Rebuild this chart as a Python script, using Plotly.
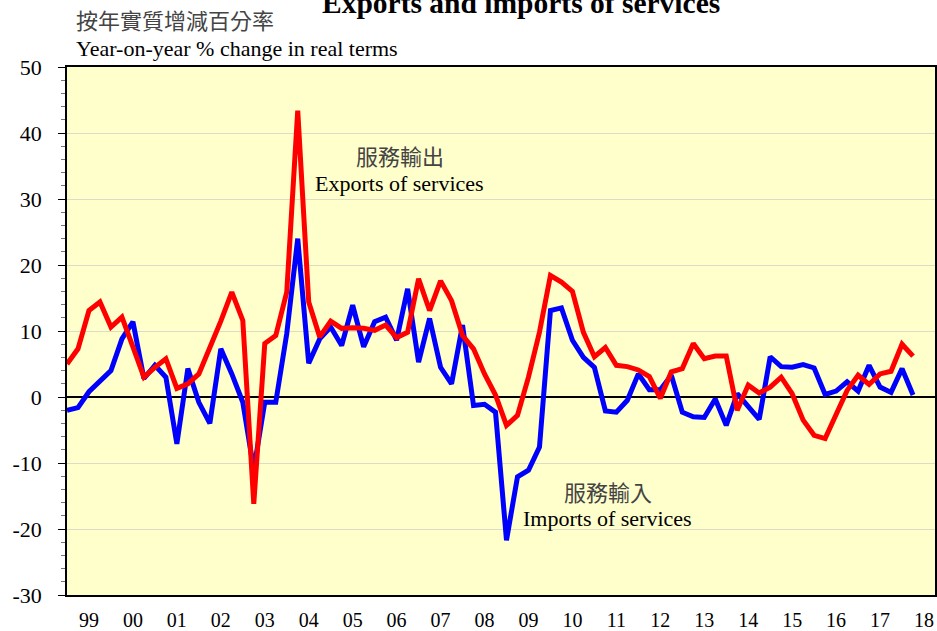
import plotly.graph_objects as go

# Quarterly, 1999 Q1 .. 2018 Q2
exports = [5.0, 7.3, 13.1, 14.4, 10.6, 12.1, 7.6, 3.0, 4.5, 5.8, 1.3, 2.0, 3.5, 7.4, 11.5, 15.9,
           11.6, -16.2, 8.1, 9.3, 15.9, 43.4, 14.4, 9.1, 11.5, 10.4, 10.5, 10.4, 10.1, 10.9, 9.0, 9.8,
           17.9, 13.1, 17.6, 14.6, 9.3, 7.3, 3.5, 0.3, -4.3, -2.8, 3.0, 9.8, 18.4, 17.4, 16.0, 9.8,
           6.1, 7.5, 4.8, 4.6, 4.1, 3.1, -0.2, 3.8, 4.3, 8.1, 5.8, 6.2, 6.2, -2.0, 1.8, 0.6,
           1.5, 3.0, 0.5, -3.5, -5.8, -6.3, -2.8, 1.0, 3.3, 1.9, 3.5, 3.9, 8.0, 6.2]
imports = [-2.0, -1.6, 0.8, 2.3, 4.0, 8.8, 11.4, 2.8, 4.8, 3.0, -7.1, 4.3, -0.8, -4.0, 7.3, 3.5,
           -0.8, -11.0, -0.8, -0.8, 9.6, 24.0, 5.1, 8.8, 10.6, 7.8, 13.9, 7.6, 11.4, 12.1, 8.6, 16.4,
           5.3, 11.9, 4.5, 2.0, 10.9, -1.3, -1.1, -2.3, -21.7, -12.1, -11.1, -7.6, 13.1, 13.5, 8.6, 6.0,
           4.5, -2.1, -2.3, -0.5, 3.5, 1.1, 1.1, 3.3, -2.3, -3.0, -3.1, -0.3, -4.3, 0.5, -1.5, -3.4,
           6.1, 4.6, 4.5, 4.9, 4.4, 0.4, 0.9, 2.3, 0.9, 4.8, 1.5, 0.7, 4.3, 0.3]
year_labels = ["99", "00", "01", "02", "03", "04", "05", "06", "07", "08",
               "09", "10", "11", "12", "13", "14", "15", "16", "17", "18"]
y_tick_values = [-30, -20, -10, 0, 10, 20, 30, 40, 50]
y_tick_labels = ["-30", "-20", "-10", "0", "10", "20", "30", "40", "50"]

quarter_idx = list(range(len(exports)))
n_quarters = 4 * len(year_labels) - 1  # axis ends after 2018 Q3

SERIF = "Liberation Serif, Times New Roman, serif"
CJK = "Noto Sans CJK TC, Noto Sans CJK SC, sans-serif"

fig = go.Figure()
fig.add_trace(go.Scatter(x=quarter_idx, y=imports, mode="lines",
                         line=dict(color="#0000FF", width=5), showlegend=False))
fig.add_trace(go.Scatter(x=quarter_idx, y=exports, mode="lines",
                         line=dict(color="#FF0000", width=5), showlegend=False))

fig.update_layout(
    width=937, height=631,
    margin=dict(l=67, r=2, t=67, b=36, autoexpand=False),
    paper_bgcolor="white",
    plot_bgcolor="#FFFFCC",
    font=dict(family=SERIF, color="black"),
    xaxis=dict(
        range=[0, n_quarters], tickmode="array",
        tickvals=[4 * k + 2 for k in range(len(year_labels))],
        ticktext=year_labels, ticks="", showgrid=False, zeroline=False,
        tickfont=dict(family=SERIF, size=20, color="black"),
        ticklabelstandoff=6, automargin=False,
        showline=True, linecolor="black", linewidth=1.5, mirror=True,
    ),
    xaxis2=dict(
        overlaying="x", anchor="y", side="bottom",
        range=[0, n_quarters], tickmode="array",
        tickvals=list(range(0, n_quarters + 1)),
        ticks="outside", ticklen=8, tickwidth=1, tickcolor="#555",
        showticklabels=False, showgrid=False, zeroline=False, showline=False,
        automargin=False,
    ),
    xaxis3=dict(
        overlaying="x", anchor="y", side="bottom",
        range=[0, n_quarters], tickmode="array",
        tickvals=[4 * k for k in range(len(year_labels) + 1)],
        ticks="inside", ticklen=11, tickwidth=1, tickcolor="#555",
        showticklabels=False, showgrid=True, gridcolor="#DCDCC8", gridwidth=1,
        zeroline=False, showline=False, automargin=False,
    ),
    yaxis=dict(
        range=[-30, 50], tickmode="array", tickvals=y_tick_values, ticktext=y_tick_labels,
        ticks="outside", ticklen=7, tickcolor="black",
        minor=dict(dtick=2, tick0=0, ticks="outside", ticklen=4, tickcolor="#777", showgrid=False),
        showgrid=True, gridcolor="#DCDCC8", gridwidth=1,
        zeroline=True, zerolinecolor="black", zerolinewidth=2,
        showline=True, linecolor="black", linewidth=1.5, mirror=True,
        tickfont=dict(family=SERIF, size=22, color="black"),
        ticklabelstandoff=12, automargin=False,
    ),
)

annotations = [
    dict(text="<b>Exports and imports of services</b>", xref="paper", yref="paper",
         x=0.523, y=1, yshift=64, xanchor="center", yanchor="middle", showarrow=False,
         font=dict(family=SERIF, size=29.5, color="black")),
    dict(text="按年實質增減百分率", xref="paper", yref="paper",
         x=0.008, y=1, yshift=48, xanchor="left", yanchor="middle", showarrow=False,
         font=dict(family=CJK, size=22, color="#444")),
    dict(text="Year-on-year % change in real terms", xref="paper", yref="paper",
         x=0.008, y=1, yshift=19, xanchor="left", yanchor="middle", showarrow=False,
         font=dict(family=SERIF, size=22, color="black")),
    dict(text="服務輸出", xref="x", yref="y", x=30.3, y=36.6,
         xanchor="center", yanchor="middle", showarrow=False,
         font=dict(family=CJK, size=22, color="#444")),
    dict(text="Exports of services", xref="x", yref="y", x=30.3, y=32.3,
         xanchor="center", yanchor="middle", showarrow=False,
         font=dict(family=SERIF, size=22, color="black")),
    dict(text="服務輸入", xref="x", yref="y", x=49.2, y=-14.2,
         xanchor="center", yanchor="middle", showarrow=False,
         font=dict(family=CJK, size=22, color="#444")),
    dict(text="Imports of services", xref="x", yref="y", x=49.2, y=-18.4,
         xanchor="center", yanchor="middle", showarrow=False,
         font=dict(family=SERIF, size=22, color="black")),
]
fig.update_layout(annotations=annotations)

fig.write_html("out.html", config={"displayModeBar": False},
               post_script="document.body.style.margin='0';document.body.style.overflow='hidden';")
